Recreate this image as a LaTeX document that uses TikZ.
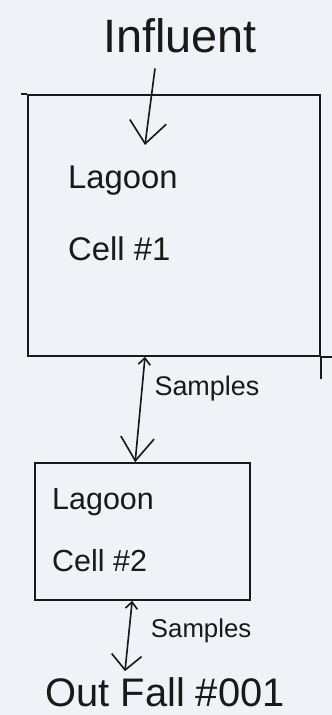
\documentclass[tikz,border=0pt]{standalone}
\usepackage{fontspec}
\setmainfont{Liberation Sans}
\usetikzlibrary{arrows.meta, positioning}
\definecolor{paper}{RGB}{240,242,247}
\definecolor{pencil}{RGB}{25,25,25}
\tikzstyle{cell} = [rectangle, draw=pencil, line width=1.4pt, inner sep=0pt]
\tikzstyle{hand} = [text=pencil, inner sep=0pt]
\tikzstyle{stroke} = [draw=pencil, line width=1.4pt]
\tikzstyle{arrow} = [stroke, -{Straight Barb[length=0.66cm, width=1.1cm]}]
\tikzstyle{sample} = [stroke, {Straight Barb[length=0.2cm, width=0.36cm]}-{Straight Barb[length=0.7cm, width=1cm]}]

\begin{document}
\begin{tikzpicture}[x=0.03cm, y=-0.03cm]
                \fill [paper] (0,0) rectangle (332,715);
                \useasboundingbox (0,0) rectangle (332,715);

                \node (influent) [hand, font=\fontsize{40}{48}\selectfont] at (180,36) {Influent};
                \node (cellOne) [cell, minimum width=8.76cm, minimum height=7.83cm] at (174,225.5) {};
                \node (cellOneText) [hand, anchor=north west, align=left, font=\fontsize{28}{61}\selectfont] at (68,166) {Lagoon\\Cell \#1};
                \node (cellTwo) [cell, minimum width=6.45cm, minimum height=4.11cm] at (142.5,531.5) {};
                \node (cellTwoText) [hand, anchor=north west, align=left, font=\fontsize{26}{53}\selectfont] at (52,488) {Lagoon\\Cell \#2};
                \node (outfall) [hand, font=\fontsize{34}{40}\selectfont] at (165,692) {Out Fall \#001};

                % overshooting pen strokes of the first cell
                \draw [stroke] (cellOne.north west) -- ++(-6,0);
                \draw [stroke] (cellOne.south east) -- ++(12,0);
                \draw [stroke] (cellOne.south east) -- ++(0,22);

                \draw [arrow] ([xshift=-0.75cm, yshift=-0.45cm]influent.south) -- ([xshift=2.31cm, yshift=0.63cm]cellOneText.north west);

                \draw [sample] ([xshift=-0.87cm]cellOne.south) -- node[hand, pos=0.3, right=0.35cm, font=\fontsize{23}{28}\selectfont] {Samples} ([xshift=-0.22cm]cellTwo.north);

                \draw [sample, {Straight Barb[length=0.2cm, width=0.36cm]}-{Straight Barb[length=0.45cm, width=0.9cm]}] ([xshift=-0.31cm]cellTwo.south) -- node[hand, pos=0.42, right=0.63cm, font=\fontsize{22}{26}\selectfont] {Samples} ([xshift=-1.2cm, yshift=0.18cm]outfall.north);
            \end{tikzpicture}
\end{document}
